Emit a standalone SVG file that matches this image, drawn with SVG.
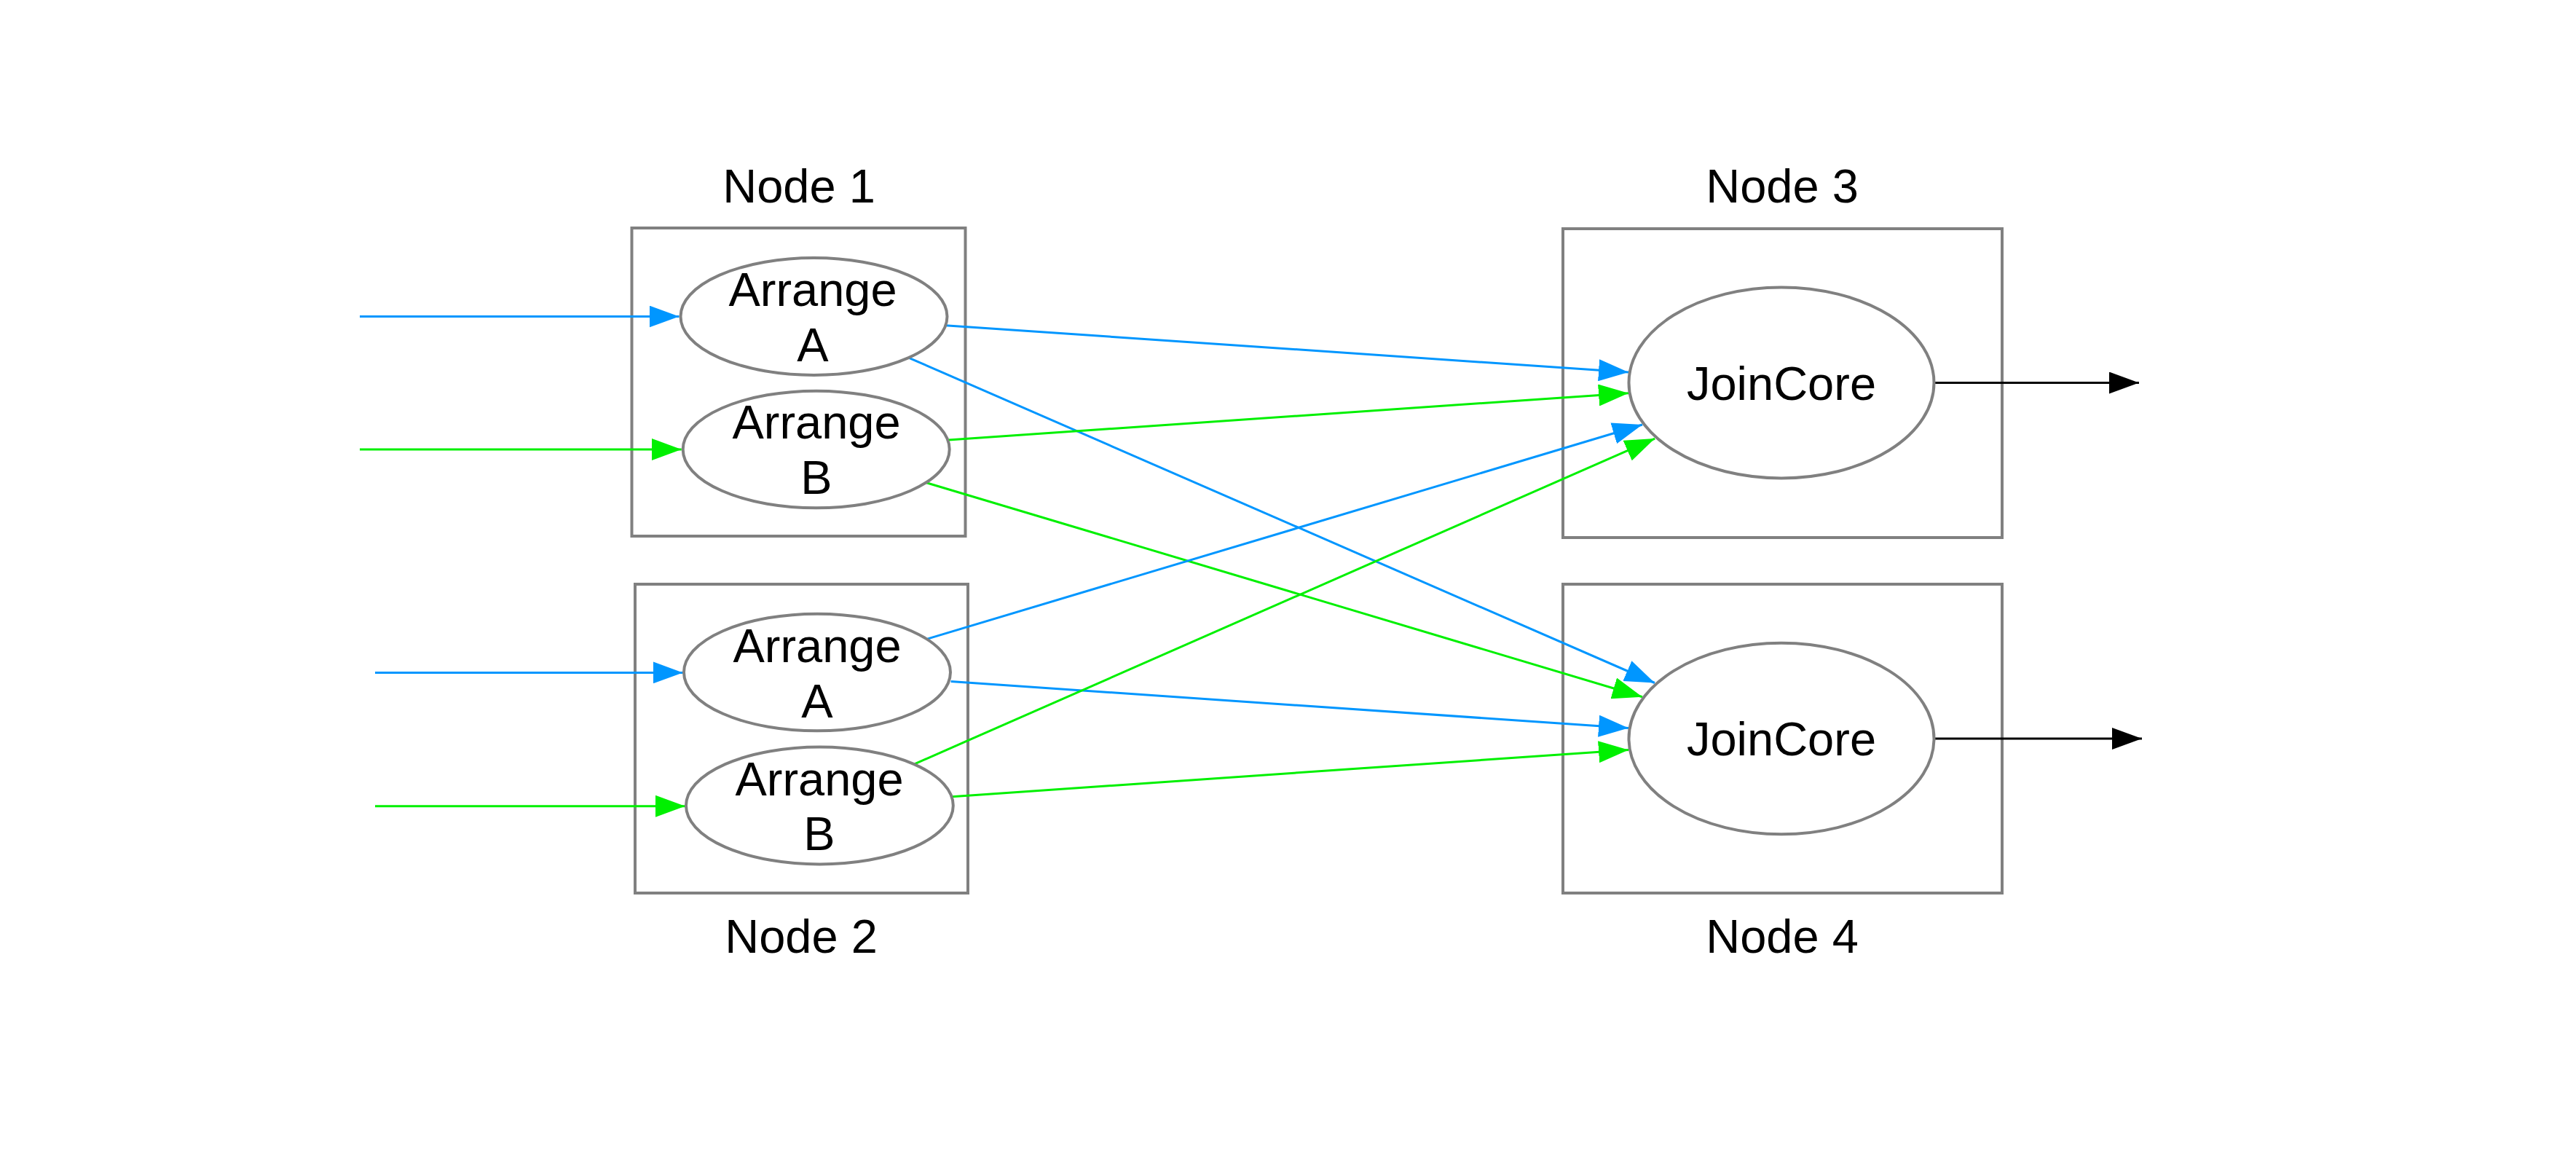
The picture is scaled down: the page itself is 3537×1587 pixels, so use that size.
<svg xmlns="http://www.w3.org/2000/svg" width="3537" height="1587" viewBox="0 0 3537 1587">
<style>
.box{fill:none;stroke:#808080;stroke-width:4}
.ell{fill:#fff;stroke:#808080;stroke-width:4}
.t{font-family:"Liberation Sans",Arial,Helvetica,sans-serif;font-size:65px;fill:#000;text-anchor:middle}
.b{stroke:#0096FF;stroke-width:3;fill:none;marker-end:url(#mb)}
.g{stroke:#00F000;stroke-width:3;fill:none;marker-end:url(#mg)}
.k{stroke:#000;stroke-width:3;fill:none;marker-end:url(#mk)}
</style>
<defs>
<marker id="mb" markerUnits="userSpaceOnUse" markerWidth="42" markerHeight="30" refX="41" refY="15" orient="auto"><path d="M0,0 L41,15 L0,30 z" fill="#0096FF"/></marker>
<marker id="mg" markerUnits="userSpaceOnUse" markerWidth="42" markerHeight="30" refX="41" refY="15" orient="auto"><path d="M0,0 L41,15 L0,30 z" fill="#00F000"/></marker>
<marker id="mk" markerUnits="userSpaceOnUse" markerWidth="42" markerHeight="30" refX="41" refY="15" orient="auto"><path d="M0,0 L41,15 L0,30 z" fill="#000"/></marker>
</defs>
<rect width="3537" height="1587" fill="#fff"/>
<g id="node1">
<rect class="box" x="867.5" y="313" width="458" height="423"/>
<text class="t" x="1097" y="278">Node 1</text>
</g>
<g id="node2">
<rect class="box" x="872" y="802" width="457" height="424"/>
<text class="t" x="1100" y="1308">Node 2</text>
</g>
<g id="node3">
<rect class="box" x="2146" y="314" width="603" height="424"/>
<text class="t" x="2447" y="278">Node 3</text>
</g>
<g id="node4">
<rect class="box" x="2146" y="802" width="603" height="424"/>
<text class="t" x="2447" y="1308">Node 4</text>
</g>
<g id="connectors">
<line class="b" x1="494" y1="434.5" x2="932.5" y2="434.5"/>
<line class="g" x1="494" y1="617" x2="935.7" y2="617"/>
<line class="b" x1="515" y1="923.4" x2="937.6" y2="923.4"/>
<line class="g" x1="515" y1="1106.7" x2="940.8" y2="1106.7"/>
<line class="b" x1="1298" y1="446.7" x2="2236" y2="511"/>
<line class="b" x1="1247" y1="490.8" x2="2272" y2="937.5"/>
<line class="g" x1="1302.4" y1="604" x2="2236" y2="539.7"/>
<line class="g" x1="1270.5" y1="662.2" x2="2255" y2="956.7"/>
<line class="b" x1="1272.4" y1="877.4" x2="2255" y2="583"/>
<line class="b" x1="1305.6" y1="935.6" x2="2236" y2="999.5"/>
<line class="g" x1="1254.6" y1="1049.3" x2="2272.2" y2="602.1"/>
<line class="g" x1="1306.9" y1="1093.7" x2="2236" y2="1029.4"/>
<line class="k" x1="2656" y1="525.5" x2="2937" y2="525.5"/>
<line class="k" x1="2656" y1="1014" x2="2941" y2="1014"/>
</g>
<g id="arrangeA1">
<ellipse class="ell" cx="1117.5" cy="434.5" rx="183" ry="80.4"/>
<text class="t" x="1116" y="420">Arrange</text>
<text class="t" x="1116" y="496">A</text>
</g>
<g id="arrangeB1">
<ellipse class="ell" cx="1120.7" cy="617" rx="183" ry="80.3"/>
<text class="t" x="1121" y="602">Arrange</text>
<text class="t" x="1121" y="678">B</text>
</g>
<g id="arrangeA2">
<ellipse class="ell" cx="1122" cy="923" rx="183" ry="80.3"/>
<text class="t" x="1122" y="909">Arrange</text>
<text class="t" x="1122" y="985">A</text>
</g>
<g id="arrangeB2">
<ellipse class="ell" cx="1125.4" cy="1106" rx="183.4" ry="80.4"/>
<text class="t" x="1125" y="1092">Arrange</text>
<text class="t" x="1125" y="1167">B</text>
</g>
<g id="joincore3">
<ellipse class="ell" cx="2446" cy="525.4" rx="209.5" ry="131"/>
<text class="t" x="2446" y="549">JoinCore</text>
</g>
<g id="joincore4">
<ellipse class="ell" cx="2446" cy="1014" rx="209.5" ry="131.3"/>
<text class="t" x="2446" y="1037">JoinCore</text>
</g>
</svg>
